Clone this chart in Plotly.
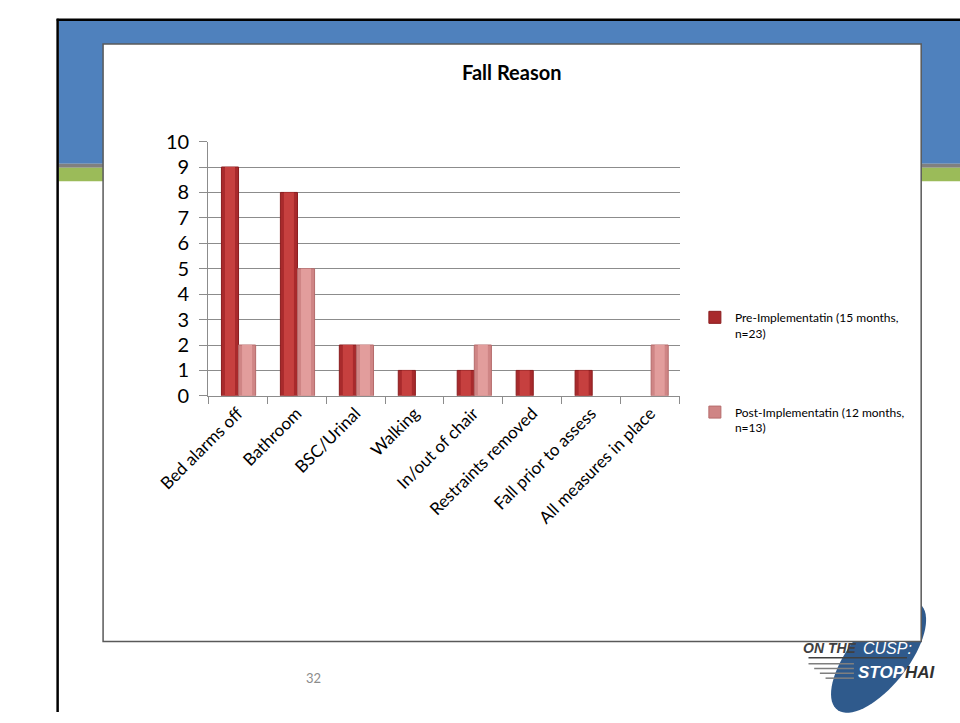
import numpy as np
import plotly.graph_objects as go

# ---------------- data ----------------
categories = ["Bed alarms off", "Bathroom", "BSC/Urinal", "Walking",
              "In/out of chair", "Restraints removed", "Fall prior to assess",
              "All measures in place"]
pre_values = [9, 8, 2, 1, 1, 1, 1, 0]
post_values = [2, 5, 2, 0, 2, 0, 0, 2]
pre_name = "Pre-Implementatin (15 months,<br>n=23)"
post_name = "Post-Implementatin (12 months,<br>n=13)"
title_text = "Fall Reason"
y_ticks = list(range(0, 11))

W, H = 960, 723
FONT = "Lato"
LOGO_FONT = "Liberation Sans, sans-serif"


def px(x):
    return x / W


def py(y):
    return 1 - y / H


pre_vals = [v if v > 0 else None for v in pre_values]
post_vals = [v if v > 0 else None for v in post_values]

fig = go.Figure()

# Pre bars: outer (dark edges) + inner highlight
fig.add_trace(go.Bar(x=categories, y=pre_vals, name=pre_name, offset=-0.275, width=0.29,
                     marker=dict(color="#A82A2C", line=dict(color="#8A1C1E", width=1)),
                     legend="legend", showlegend=True, hoverinfo="y"))
fig.add_trace(go.Bar(x=categories, y=pre_vals, offset=-0.215, width=0.17,
                     marker=dict(color="#C6403F", line=dict(width=0)),
                     showlegend=False, hoverinfo="skip"))
# Post bars
fig.add_trace(go.Bar(x=categories, y=post_vals, name=post_name, offset=0.015, width=0.29,
                     marker=dict(color="#CF8585", line=dict(color="#B56B6B", width=1)),
                     legend="legend2", showlegend=True, hoverinfo="y"))
fig.add_trace(go.Bar(x=categories, y=post_vals, offset=0.075, width=0.17,
                     marker=dict(color="#E29D9C", line=dict(width=0)),
                     showlegend=False, hoverinfo="skip"))

shapes = []
# slide background decorations
shapes.append(dict(type="rect", xref="paper", yref="paper", x0=px(8), x1=px(960), y0=py(156), y1=py(8),
                   fillcolor="#4F81BD", line=dict(width=0), layer="below"))
shapes.append(dict(type="rect", xref="paper", yref="paper", x0=px(8), x1=px(960), y0=py(160), y1=py(156),
                   fillcolor="#808080", line=dict(width=0), layer="below"))
shapes.append(dict(type="rect", xref="paper", yref="paper", x0=px(8), x1=px(960), y0=py(174), y1=py(160),
                   fillcolor="#9BBB59", line=dict(width=0), layer="below"))
# black slide border (top + left)
shapes.append(dict(type="line", xref="paper", yref="paper", x0=px(6), x1=px(960), y0=py(7), y1=py(7),
                   line=dict(color="#000000", width=2.5), layer="below"))
shapes.append(dict(type="line", xref="paper", yref="paper", x0=px(7), x1=px(7), y0=py(6), y1=py(723),
                   line=dict(color="#000000", width=2.5), layer="below"))

# logo ellipse (rotated)
t = np.linspace(0, 2 * np.pi, 72)
cx, cy, a, b, ang = 874, 666, 70, 31, np.deg2rad(-51)
ex = cx + a * np.cos(t) * np.cos(ang) - b * np.sin(t) * np.sin(ang)
ey = cy + a * np.cos(t) * np.sin(ang) + b * np.sin(t) * np.cos(ang)
path = "M " + " L ".join(f"{px(xx):.5f},{py(yy):.5f}" for xx, yy in zip(ex, ey)) + " Z"
shapes.append(dict(type="path", xref="paper", yref="paper", path=path,
                   fillcolor="#2F5A8C", line=dict(width=0), layer="below"))

# chart white box
shapes.append(dict(type="rect", xref="paper", yref="paper", x0=px(55), x1=px(919), y0=py(650), y1=py(32),
                   fillcolor="#FFFFFF", line=dict(color="#595959", width=1.5), layer="below"))

# logo speed lines
for x0, yy in [(800, 673), (806, 678), (812, 683), (818, 688)]:
    shapes.append(dict(type="line", xref="paper", yref="paper", x0=px(x0), x1=px(848), y0=py(yy), y1=py(yy),
                       line=dict(color="#7F7F7F", width=1.5), layer="above"))
shapes.append(dict(type="line", xref="paper", yref="paper", x0=px(800), x1=px(904), y0=py(667), y1=py(667),
                   line=dict(color="#404040", width=1.5), layer="above"))

annotations = [
    dict(text=f"<b>{title_text}</b>", x=px(487), y=py(61), xref="paper", yref="paper",
         showarrow=False, font=dict(family=FONT, size=20, color="#000000"), xanchor="center", yanchor="middle"),
    dict(text="32", x=px(277), y=py(688), xref="paper", yref="paper", showarrow=False,
         font=dict(family=FONT, size=13, color="#8C8C8C"), xanchor="center", yanchor="middle"),
    dict(text="<b><i>ON THE</i></b>", x=px(853), y=py(657), xref="paper", yref="paper", showarrow=False,
         font=dict(family=LOGO_FONT, size=14, color="#404040"), xanchor="right", yanchor="middle"),
    dict(text="<i>CUSP:</i>", x=px(855), y=py(657), xref="paper", yref="paper", showarrow=False,
         font=dict(family=LOGO_FONT, size=16, color="#FFFFFF"), xanchor="left", yanchor="middle"),
    dict(text="<b><i>STOP</i></b>", x=px(850), y=py(682), xref="paper", yref="paper", showarrow=False,
         font=dict(family=LOGO_FONT, size=17, color="#FFFFFF"), xanchor="left", yanchor="middle"),
    dict(text="<b><i>HAI</i></b>", x=px(937), y=py(682), xref="paper", yref="paper", showarrow=False,
         font=dict(family=LOGO_FONT, size=17, color="#303030"), xanchor="right", yanchor="middle"),
]

fig.update_layout(
    width=W, height=H,
    margin=dict(l=0, r=0, t=0, b=0),
    paper_bgcolor="#FFFFFF", plot_bgcolor="rgba(0,0,0,0)",
    barmode="overlay",
    shapes=shapes, annotations=annotations,
    font=dict(family=FONT, color="#000000"),
    legend=dict(x=px(680), y=py(300), xanchor="left", yanchor="top", bgcolor="rgba(0,0,0,0)",
                font=dict(family=FONT, size=12, color="#000000"), itemwidth=30, valign="top"),
    legend2=dict(x=px(680), y=py(398), xanchor="left", yanchor="top", bgcolor="rgba(0,0,0,0)",
                 font=dict(family=FONT, size=12, color="#000000"), itemwidth=30, valign="top"),
    xaxis=dict(domain=[px(166), px(664)], range=[-0.5, len(categories) - 0.5],
               tickangle=-45, tickfont=dict(family=FONT, size=17, color="#000000"),
               showline=True, linecolor="#8C8C8C", linewidth=1,
               ticks="outside", tickson="boundaries", ticklen=7, tickcolor="#8C8C8C",
               showgrid=False, zeroline=False, fixedrange=True),
    yaxis=dict(domain=[py(396), py(133)], range=[0, 10], tickvals=y_ticks,
               tickfont=dict(family=FONT, size=20, color="#000000"),
               showline=True, linecolor="#8C8C8C", linewidth=1,
               ticks="outside", ticklen=8, tickcolor="#8C8C8C", ticklabelstandoff=6,
               showgrid=True, gridcolor="#8C8C8C", gridwidth=1, zeroline=False, fixedrange=True),
)

fig.write_html("out.html")
